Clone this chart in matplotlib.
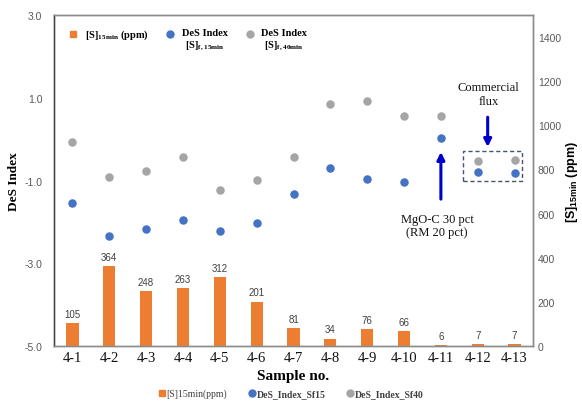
import matplotlib
matplotlib.use("Agg")
import matplotlib.pyplot as plt
from matplotlib.lines import Line2D
from matplotlib.patches import Rectangle
from matplotlib.legend_handler import HandlerLine2D
import numpy as np

samples = ["4-1", "4-2", "4-3", "4-4", "4-5", "4-6", "4-7",
           "4-8", "4-9", "4-10", "4-11", "4-12", "4-13"]
s15 = [105, 364, 248, 263, 312, 201, 81, 34, 76, 66, 6, 7, 7]
des_sf15 = [-1.55, -2.34, -2.17, -1.96, -2.22, -2.03, -1.33,
            -0.70, -0.97, -1.04, 0.02, -0.80, -0.82]
des_sf40 = [-0.07, -0.92, -0.77, -0.43, -1.23, -0.99, -0.43,
            0.85, 0.92, 0.56, 0.56, -0.53, -0.51]

orange = "#ED7D31"
blue = "#4472C4"
grey = "#A5A5A5"
serif = "Liberation Serif"
sans = "Liberation Sans"


# legend marker lifted up to sit beside the first line of a 2-line label
class UpHandler(HandlerLine2D):
    def create_artists(self, legend, orig_handle, xdescent, ydescent,
                       width, height, fontsize, trans):
        arts = super().create_artists(legend, orig_handle, xdescent, ydescent,
                                      width, height, fontsize, trans)
        for a in arts:
            a.set_ydata(np.asarray(a.get_ydata()) + 4.0)
        return arts


x = np.arange(len(samples))

fig = plt.figure(figsize=(5.82, 4.06), dpi=100)
ax = fig.add_axes([0.0928, 0.1453, 0.8230, 0.8153])
ax2 = ax.twinx()
ax.set_zorder(ax2.get_zorder() + 1)
ax.patch.set_visible(False)

# bars on right axis
bars = ax2.bar(x, s15, width=0.33, color=orange, zorder=2)
ax2.bar_label(bars, labels=[str(v) for v in s15], padding=3,
              fontsize=7, color="#404040", family=sans)
ax2.set_ylim(0, 1500)
ax2.set_yticks(range(0, 1401, 200))

# DeS index on left axis
ax.scatter(x, des_sf15, s=26, color=blue, zorder=3)
ax.scatter(x, des_sf40, s=26, color=grey, zorder=3)
ax.set_ylim(-5, 3)
ax.set_yticks([-5, -3, -1, 1, 3])
ax.set_yticklabels(["-5.0", "-3.0", "-1.0", "1.0", "3.0"])
ax.set_xlim(-0.5, len(samples) - 0.5)
ax.set_xticks(x)
ax.set_xticklabels(samples, family=serif, fontsize=10.5, color="#111111")

for a in (ax, ax2):
    a.tick_params(axis="both", length=0)
    for sp in a.spines.values():
        sp.set_color("#8c8c8c")
        sp.set_linewidth(1.0)
ax.spines["left"].set_color("#404040")
ax.tick_params(axis="y", labelsize=7.5, labelcolor="#595959", pad=8.5)
ax2.tick_params(axis="y", labelsize=7.5, labelcolor="#595959", pad=3.5)
for lab in ax.get_yticklabels() + ax2.get_yticklabels():
    lab.set_family(sans)

ax.set_ylabel("DeS Index", family=serif, fontweight="bold", fontsize=9.5, labelpad=3)
ax2.set_ylabel(r"[S]$_{\mathregular{15min}}$ (ppm)", family=sans,
               fontweight="bold", fontsize=9, labelpad=2)
ax.set_xlabel("Sample no.", family=serif, fontweight="bold", fontsize=11, labelpad=4)

# annotations
arrow_kw = dict(arrowstyle="-|>", color="#0000CC", lw=2.2,
                mutation_scale=11, shrinkA=0, shrinkB=0)
ax.annotate("", xy=(10, -0.31), xytext=(10, -1.45), arrowprops=arrow_kw)
ax.text(9.9, -2.08, "MgO-C 30 pct\n(RM 20 pct)", ha="center", va="center",
        family=serif, fontsize=9, linespacing=1.15, color="#111111")
ax.annotate("", xy=(11.27, -0.19), xytext=(11.27, 0.53), arrowprops=arrow_kw)
ax.text(11.3, 1.09, "Commercial\nflux", ha="center", va="center",
        family=serif, fontsize=9, linespacing=1.15, color="#111111")
ax.add_patch(Rectangle((10.59, -1.01), 1.6, 0.72, fill=False,
                       ls=(0, (3, 2)), lw=1.0, ec="#44546A", zorder=4))

# top legend inside plot
h_top = [Line2D([], [], ls="", marker="s", ms=4, color=orange),
         Line2D([], [], ls="", marker="o", ms=5, color=blue),
         Line2D([], [], ls="", marker="o", ms=5, color=grey)]
lab_top = [r"[S]$_{\mathregular{15min}}$ (ppm)" + "\n ",
           "DeS Index\n" + r"[S]$_{\mathregular{f,15min}}$",
           "DeS Index\n" + r"[S]$_{\mathregular{f,40min}}$"]
leg = ax.legend(h_top, lab_top, ncol=3, loc="upper left",
                bbox_to_anchor=(0.01, 0.99), frameon=False,
                prop={"family": serif, "weight": "bold", "size": 7.5},
                handlelength=1.0, handletextpad=0.6, columnspacing=1.6,
                handler_map={Line2D: UpHandler()})
for t in leg.get_texts():
    t.set_multialignment("center")

# bottom legend
h_bot = [Line2D([], [], ls="", marker="s", ms=4, color=orange),
         Line2D([], [], ls="", marker="o", ms=5, color=blue),
         Line2D([], [], ls="", marker="o", ms=5, color=grey)]
lab_bot = ["[S]15min(ppm)", "DeS_Index_Sf15", "DeS_Index_Sf40"]
leg2 = fig.legend(h_bot, lab_bot, ncol=3, loc="lower center",
                  bbox_to_anchor=(0.5, -0.005), frameon=False,
                  prop={"family": serif, "size": 7},
                  handlelength=0.6, handletextpad=0.2, columnspacing=2.2)
for i, t in enumerate(leg2.get_texts()):
    t.set_color("#404040")
    if i > 0:
        t.set_fontweight("bold")

fig.savefig("out.png", dpi=100)
